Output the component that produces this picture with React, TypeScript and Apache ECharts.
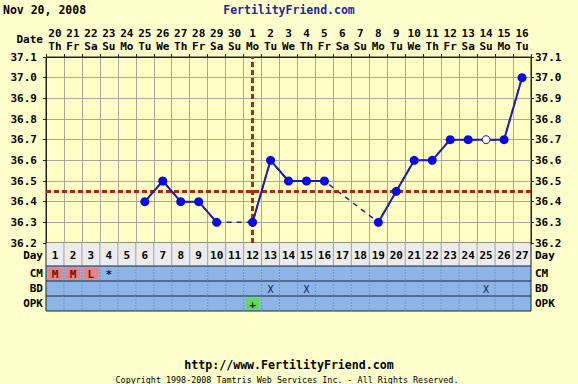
import React, { useEffect, useRef } from "react";
import * as echarts from "echarts";

const days = ["1","2","3","4","5","6","7","8","9","10","11","12","13","14","15","16","17","18","19","20","21","22","23","24","25","26","27"];
const dates = ["20","21","22","23","24","25","26","27","28","29","30","1","2","3","4","5","6","7","8","9","10","11","12","13","14","15","16"];
const weekdays = ["Th","Fr","Sa","Su","Mo","Tu","We","Th","Fr","Sa","Su","Mo","Tu","We","Th","Fr","Sa","Su","Mo","Tu","We","Th","Fr","Sa","Su","Mo","Tu"];
const temps: (number | null)[] = [null,null,null,null,null,36.4,36.5,36.4,36.4,36.3,null,36.3,36.6,36.5,36.5,36.5,null,null,36.3,36.45,36.6,36.6,36.7,36.7,36.7,36.7,37.0];
const discardedDays = ["25"];
const coverline = 36.45;
const ovulationDay = "12";
const cm = ["M","M","L","*","","","","","","","","","","","","","","","","","","","","","","",""];
const bdDays = ["13","15","25"];
const opkPositive = ["12"];
const yTicks = [36.2, 37.1];

const FONT = '"DejaVu Sans Mono", monospace';
const rowTops = [0, 23, 38, 53];
const rowBottoms = [23, 38, 53, 68];
const rowLabels = ["Day", "CM", "BD", "OPK"];

export default function App() {
  const ref = useRef<HTMLDivElement>(null);
  useEffect(() => {
    if (!ref.current) return;
    const chart = echarts.init(ref.current, null, { renderer: "svg" });

    const tableData: number[][] = [];
    for (let r = 0; r < 4; r++) for (let d = 0; d < days.length; d++) tableData.push([d, r]);

    const renderItem = (params: any, api: any) => {
      const d = api.value(0);
      const r = api.value(1);
      const w = api.size([1, 0])[0];
      const cx = api.coord([d, 0])[0];
      const x0 = cx - w / 2;
      const y0 = api.coord([d, rowTops[r]])[1];
      const y1 = api.coord([d, rowBottoms[r]])[1];
      const h = y1 - y0;
      const cy = (y0 + y1) / 2;
      const children: any[] = [];
      const fill = r === 0 ? "#ececec" : "#8db5e6";
      children.push({ type: "rect", shape: { x: x0, y: y0, width: w, height: h }, style: { fill } });
      let text = "";
      let textFill = "#000";
      let bold = true;
      let fs = 11;
      if (r === 0) {
        text = days[d];
      } else if (r === 1) {
        text = cm[d];
        if (text === "M" || text === "L") {
          children.push({ type: "rect", shape: { x: x0 + 1.5, y: y0 + 1.5, width: w - 3, height: h - 3 }, style: { fill: "#e98282" } });
          textFill = "#6a1010";
        } else {
          textFill = "#0a1a50";
        }
      } else if (r === 2) {
        if (bdDays.includes(days[d])) { text = "X"; bold = false; textFill = "#0a1a50"; fs = 10; }
      } else if (r === 3) {
        if (opkPositive.includes(days[d])) {
          children.push({ type: "rect", shape: { x: x0 + 2.5, y: y0 + 2, width: w - 5, height: h - 3.5 }, style: { fill: "#5fd85f" } });
          text = "+";
          textFill = "#0a3010";
        }
      }
      // vertical separators
      if (d > 0) {
        children.push({
          type: "line",
          shape: { x1: x0, y1: y0, x2: x0, y2: y1 },
          style: r === 0 ? { stroke: "#a0a0a0", lineWidth: 1 } : { stroke: "#6f90c4", lineWidth: 1, lineDash: [2, 1] },
        });
      } else {
        children.push({ type: "line", shape: { x1: x0, y1: y0, x2: x0, y2: y1 }, style: { stroke: "#222", lineWidth: 1 } });
      }
      if (d === days.length - 1) {
        children.push({ type: "line", shape: { x1: x0 + w, y1: y0, x2: x0 + w, y2: y1 }, style: { stroke: "#222", lineWidth: 1 } });
      }
      if (r >= 1) {
        children.push({ type: "line", shape: { x1: x0, y1: y0, x2: x0 + w, y2: y0 }, style: { stroke: "#1a2040", lineWidth: 1 } });
      }
      if (r === 3) {
        children.push({ type: "line", shape: { x1: x0, y1: y1, x2: x0 + w, y2: y1 }, style: { stroke: "#1a2040", lineWidth: 1 } });
      }
      if (text) {
        children.push({
          type: "text",
          x: cx,
          y: cy + 0.5,
          style: {
            text,
            fill: textFill,
            font: `${bold ? "bold " : ""}${fs}px ${FONT}`,
            textAlign: "center",
            textVerticalAlign: "middle",
          },
        });
      }
      return { type: "group", children };
    };

    const solidData = temps.map((v, i) =>
      discardedDays.includes(days[i]) && v !== null
        ? { value: v, itemStyle: { color: "#ffffff", borderColor: "#1010cc", borderWidth: 1 }, symbolSize: 8 }
        : v
    );

    const labelStyle = { fontFamily: FONT, fontWeight: "bold" as const, fontSize: 11, color: "#000" };

    const graphicTexts: any[] = [
      { type: "text", left: 3, top: 4, style: { text: "Nov 20, 2008", font: `bold 11.5px ${FONT}`, fill: "#000" } },
      { type: "text", x: 289, y: 10, style: { text: "FertilityFriend.com", font: `bold 11.5px ${FONT}`, fill: "#1a2a9e", textAlign: "center", textVerticalAlign: "middle" } },
      { type: "text", x: 43, y: 39, style: { text: "Date", font: `bold 11px ${FONT}`, fill: "#000", textAlign: "right", textVerticalAlign: "middle" } },
      { type: "text", x: 289, y: 365, style: { text: "http://www.FertilityFriend.com", font: `bold 11.6px ${FONT}`, fill: "#000", textAlign: "center", textVerticalAlign: "middle" } },
      { type: "text", x: 287, y: 380, style: { text: "Copyright 1998-2008 Tamtris Web Services Inc. - All Rights Reserved.", font: `8.4px ${FONT}`, fill: "#000", textAlign: "center", textVerticalAlign: "middle" } },
    ];
    const rowCenters = [255, 273.5, 288.5, 303.5];
    rowLabels.forEach((lab, i) => {
      graphicTexts.push({ type: "text", x: 43, y: rowCenters[i], style: { text: lab, font: `bold 11px ${FONT}`, fill: "#000", textAlign: "right", textVerticalAlign: "middle" } });
      graphicTexts.push({ type: "text", x: 535, y: rowCenters[i], style: { text: lab, font: `bold 11px ${FONT}`, fill: "#000", textAlign: "left", textVerticalAlign: "middle" } });
    });

    const yAxisCommon = {
      type: "value" as const,
      gridIndex: 0,
      min: yTicks[0],
      max: yTicks[1],
      interval: 0.1,
      axisLine: { show: true, lineStyle: { color: "#222" } },
      axisTick: { show: true, length: 3, lineStyle: { color: "#222" } },
    };

    chart.setOption({
      animation: false,
      backgroundColor: "#ffffcc",
      grid: [
        { left: 46, top: 57, width: 485, height: 186, show: true, backgroundColor: "#ffffc6", borderColor: "#222", borderWidth: 1 },
        { left: 46, top: 243, width: 485, height: 68 },
      ],
      xAxis: [
        {
          type: "category", gridIndex: 0, data: days, position: "bottom",
          axisLine: { show: true, lineStyle: { color: "#222" } },
          axisTick: { show: false }, axisLabel: { show: false },
          splitLine: { show: true, lineStyle: { color: "#a8a8a0", width: 1 } },
        },
        {
          type: "category", gridIndex: 0, data: days, position: "top",
          axisLine: { show: true, lineStyle: { color: "#222" } },
          axisTick: { show: true, length: 3, lineStyle: { color: "#222" } },
          axisLabel: {
            ...labelStyle, margin: 4, lineHeight: 13, interval: 0,
            formatter: (_v: string, i: number) => `${dates[i]}\n${weekdays[i]}`,
          },
          splitLine: { show: false },
        },
        { type: "category", gridIndex: 1, data: days, show: false },
      ],
      yAxis: [
        {
          ...yAxisCommon, position: "left",
          axisLabel: { ...labelStyle, margin: 9, formatter: (v: number) => v.toFixed(1) },
          splitLine: { show: true, lineStyle: { color: "#a8a8a0", width: 1 } },
        },
        {
          ...yAxisCommon, position: "right",
          axisLabel: { ...labelStyle, margin: 4, formatter: (v: number) => v.toFixed(1) },
          splitLine: { show: false },
        },
        { type: "value", gridIndex: 1, min: 0, max: 68, inverse: true, show: false },
      ],
      series: [
        {
          type: "line", xAxisIndex: 0, yAxisIndex: 0, data: temps, connectNulls: true,
          symbol: "none", lineStyle: { color: "#1c1ca8", width: 1.5, type: [5, 5] }, z: 3,
        },
        {
          type: "line", xAxisIndex: 0, yAxisIndex: 0, data: solidData, connectNulls: false,
          symbol: "circle", symbolSize: 9, showSymbol: true,
          lineStyle: { color: "#1c1cb0", width: 2 },
          itemStyle: { color: "#0808ee" }, z: 5,
          markLine: {
            silent: true, symbol: "none", label: { show: false },
            lineStyle: { color: "#b8240c", width: 3, type: [5, 3] },
            data: [{ yAxis: coverline }, { xAxis: ovulationDay }],
            z: 4,
          },
        },
        {
          type: "custom", xAxisIndex: 2, yAxisIndex: 2, data: tableData, renderItem, silent: true,
        },
      ],
      graphic: graphicTexts,
    });
    return () => chart.dispose();
  }, []);
  return <div ref={ref} style={{ position: "fixed", left: 0, top: 0, width: 578, height: 384, background: "#ffffcc" }} />;
}
